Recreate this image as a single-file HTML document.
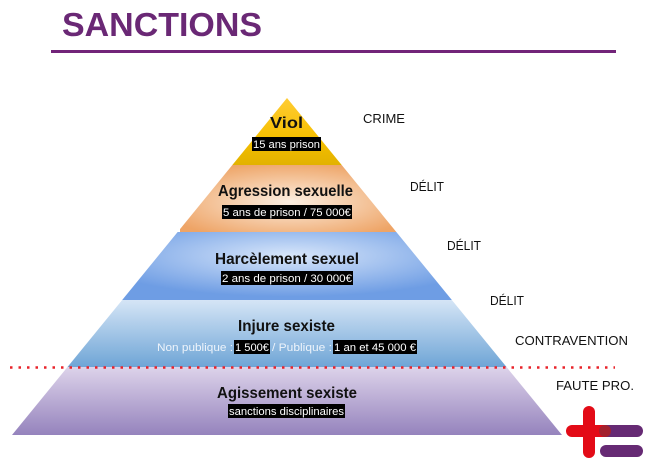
<!DOCTYPE html>
<html><head><meta charset="utf-8"><style>
html,body{margin:0;padding:0;background:#fff;width:650px;height:462px;overflow:hidden}
svg{display:block}
text{font-family:"Liberation Sans",sans-serif}
</style></head><body>
<svg width="650" height="462" viewBox="0 0 650 462" xmlns="http://www.w3.org/2000/svg">
<defs>
<clipPath id="tri"><polygon points="287,98 562,435 12,435"/></clipPath>
<linearGradient id="g1" x1="0" y1="0" x2="0" y2="1"><stop offset="0" stop-color="#ffcc33"/><stop offset="0.6" stop-color="#f6bf00"/><stop offset="1" stop-color="#e2b200"/></linearGradient>
<radialGradient id="g2" cx="0.5" cy="0.55" r="0.6"><stop offset="0" stop-color="#fcefe2"/><stop offset="1" stop-color="#eea466"/></radialGradient>
<radialGradient id="g3" cx="0.5" cy="0.35" r="0.6"><stop offset="0" stop-color="#d8e6fa"/><stop offset="1" stop-color="#6e9de4"/></radialGradient>
<linearGradient id="g4" x1="0" y1="0" x2="0" y2="1"><stop offset="0" stop-color="#d5e5f6"/><stop offset="1" stop-color="#6fa5d6"/></linearGradient>
<linearGradient id="g5" x1="0" y1="0" x2="0" y2="1"><stop offset="0" stop-color="#ddd3ea"/><stop offset="1" stop-color="#9583bd"/></linearGradient>
</defs>
<text x="62" y="36" font-size="33" font-weight="bold" fill="#6a2875" textLength="200" lengthAdjust="spacingAndGlyphs">SANCTIONS</text>
<rect x="51" y="50" width="565" height="3" fill="#722479"/>
<g clip-path="url(#tri)">
<rect x="0" y="98" width="650" height="67" fill="url(#g1)"/>
<rect x="180" y="165" width="220" height="67" fill="url(#g2)"/>
<rect x="120" y="232" width="340" height="68" fill="url(#g3)"/>
<rect x="0" y="300" width="650" height="67" fill="url(#g4)"/>
<rect x="0" y="367" width="650" height="68" fill="url(#g5)"/>
</g>
<line x1="10" y1="367.5" x2="615" y2="367.5" stroke="#e8232a" stroke-width="2.5" stroke-dasharray="2.5 6"/>
<g font-weight="bold" fill="#111">
<text x="270" y="128" font-size="16" textLength="33" lengthAdjust="spacingAndGlyphs">Viol</text>
<text x="218" y="196" font-size="16" textLength="135" lengthAdjust="spacingAndGlyphs">Agression sexuelle</text>
<text x="215" y="264" font-size="16" textLength="144" lengthAdjust="spacingAndGlyphs">Harcèlement sexuel</text>
<text x="238" y="331" font-size="16" textLength="97" lengthAdjust="spacingAndGlyphs">Injure sexiste</text>
<text x="217" y="398" font-size="16" textLength="140" lengthAdjust="spacingAndGlyphs">Agissement sexiste</text>
</g>
<g fill="#000">
<rect x="252" y="137" width="69" height="14"/>
<rect x="222" y="205" width="130" height="14"/>
<rect x="221" y="271" width="132" height="14"/>
<rect x="234" y="340" width="36" height="14"/>
<rect x="333" y="340" width="84" height="14"/>
<rect x="228" y="404" width="117" height="14"/>
</g>
<g font-size="11" fill="#fff">
<text x="253" y="148" textLength="67" lengthAdjust="spacingAndGlyphs">15 ans prison</text>
<text x="223" y="216" textLength="128" lengthAdjust="spacingAndGlyphs">5 ans de prison / 75 000€</text>
<text x="222" y="282" textLength="130" lengthAdjust="spacingAndGlyphs">2 ans de prison / 30 000€</text>
<text x="157" y="351" fill="#eef4fb" textLength="76" lengthAdjust="spacingAndGlyphs">Non publique :</text>
<text x="235" y="351" textLength="34" lengthAdjust="spacingAndGlyphs">1 500€</text>
<text x="272" y="351" fill="#eef4fb" textLength="60" lengthAdjust="spacingAndGlyphs">/ Publique :</text>
<text x="334" y="351" textLength="82" lengthAdjust="spacingAndGlyphs">1 an et 45 000 €</text>
<text x="229" y="415" textLength="115" lengthAdjust="spacingAndGlyphs">sanctions disciplinaires</text>
</g>
<g font-size="13" fill="#111">
<text x="363" y="123" textLength="42" lengthAdjust="spacingAndGlyphs">CRIME</text>
<text x="410" y="191" textLength="34" lengthAdjust="spacingAndGlyphs">DÉLIT</text>
<text x="447" y="250" textLength="34" lengthAdjust="spacingAndGlyphs">DÉLIT</text>
<text x="490" y="305" textLength="34" lengthAdjust="spacingAndGlyphs">DÉLIT</text>
<text x="515" y="345" textLength="113" lengthAdjust="spacingAndGlyphs">CONTRAVENTION</text>
<text x="556" y="390" textLength="78" lengthAdjust="spacingAndGlyphs">FAUTE  PRO.</text>
</g>
<rect x="600" y="425" width="43" height="12" rx="6" fill="#662a74"/>
<rect x="600" y="445" width="43" height="12" rx="6" fill="#662a74"/>
<rect x="583" y="406" width="12" height="52" rx="6" fill="#e30b17"/>
<rect x="566" y="425" width="44" height="12" rx="6" fill="#e30b17"/>
<circle cx="605" cy="431" r="6" fill="#a3212e"/>
</svg>
</body></html>
